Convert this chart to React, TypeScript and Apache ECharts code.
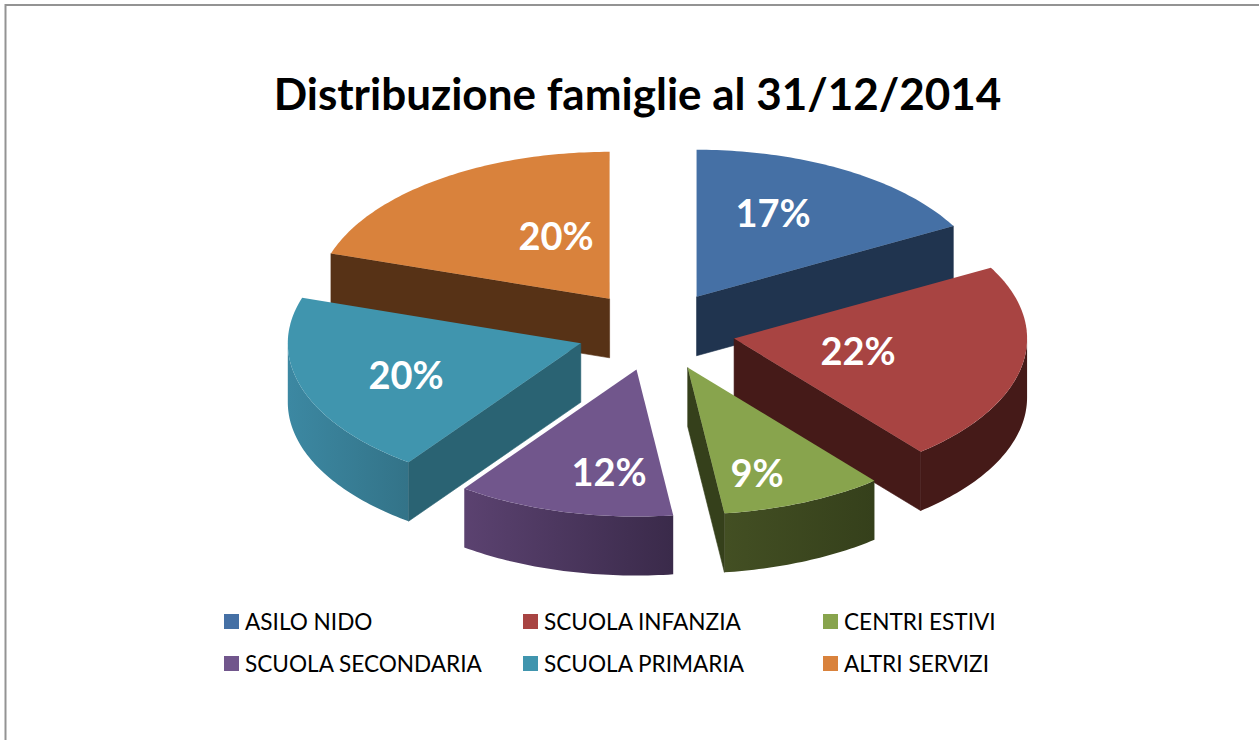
import React, { useEffect, useRef } from "react";
import * as echarts from "echarts";

const TITLE = "Distribuzione famiglie al 31/12/2014";
const categories = ["ASILO NIDO", "SCUOLA INFANZIA", "CENTRI ESTIVI", "SCUOLA SECONDARIA", "SCUOLA PRIMARIA", "ALTRI SERVIZI"];
const percentages = [17, 22, 9, 12, 20, 20];
const topColors = ["#4570A5", "#A84442", "#88A44D", "#71568C", "#4095AE", "#D9823C"];
const wallColors = ["#20344F", "#451A18", "#35401B", "#3A2A4A", "#2A6373", "#573216"];
const rimLeftColors = ["#20344F", "#451A18", "#434F23", "#5B4270", "#3C88A2", "#573216"];
const rimRightColors = ["#20344F", "#451A18", "#35401B", "#3A2A4A", "#337388", "#573216"];
const paintOrder = [5, 0, 4, 1, 3, 2];

const CX = 656.2;
const CY = 331;
const RX = 293;
const RY = 147;
const DEPTH = 59;
const EXPLODE = 0.2706;
const labelCenters = [
  [773, 212],
  [858, 350],
  [757, 472],
  [609, 471],
  [406, 374],
  [556, 235],
];

const rad = (d: number) => (d * Math.PI) / 180;

function sliceItem(index: number) {
  return (_params: any, api: any) => {
    const startPct = api.value(0);
    const pct = api.value(1);
    const a0 = startPct * 3.6;
    const a1 = (startPct + pct) * 3.6;
    const mid = rad((a0 + a1) / 2);
    const ax = CX + EXPLODE * RX * Math.sin(mid);
    const ay = CY - EXPLODE * RY * Math.cos(mid);
    const pt = (deg: number, dy = 0): number[] => [
      ax + RX * Math.sin(rad(deg)),
      ay - RY * Math.cos(rad(deg)) + dy,
    ];
    const arc = (from: number, to: number, dy = 0) => {
      const out: number[][] = [];
      const n = Math.max(2, Math.ceil(Math.abs(to - from)));
      for (let i = 0; i <= n; i++) out.push(pt(from + ((to - from) * i) / n, dy));
      return out;
    };
    const children: any[] = [];
    // Outer rim, front half only
    const r0 = Math.max(a0, 90);
    const r1 = Math.min(a1, 270);
    if (r1 > r0) {
      children.push({
        type: "polygon",
        shape: { points: [...arc(r0, r1), ...arc(r1, r0, DEPTH)] },
        style: {
          fill: new echarts.graphic.LinearGradient(0, 0, 1, 0, [
            { offset: 0, color: rimLeftColors[index] },
            { offset: 1, color: rimRightColors[index] },
          ]),
        },
      });
    }
    // Radial walls that face the viewer
    const m = pt((a0 + a1) / 2);
    [a0, a1].forEach((deg) => {
      const p = pt(deg);
      const ex = p[0] - ax;
      const ey = p[1] - ay;
      let nx = -ey;
      let ny = ex;
      if (nx * (m[0] - ax) + ny * (m[1] - ay) > 0) {
        nx = -nx;
        ny = -ny;
      }
      if (ny > 0) {
        children.push({
          type: "polygon",
          shape: { points: [[ax, ay], p, [p[0], p[1] + DEPTH], [ax, ay + DEPTH]] },
          style: { fill: wallColors[index], stroke: wallColors[index], lineWidth: 0.6 },
        });
      }
    });
    // Top face
    children.push({
      type: "polygon",
      shape: { points: [[ax, ay], ...arc(a0, a1)] },
      style: { fill: topColors[index] },
    });
    children.push({
      type: "text",
      style: {
        text: pct + "%",
        x: labelCenters[index][0],
        y: labelCenters[index][1],
        fill: "#FFFFFF",
        font: "bold 38px Lato",
        align: "center",
        verticalAlign: "middle",
      },
    });
    return { type: "group", children };
  };
}

const legendStyle = (left: number, data: string[]) => ({
  left,
  top: 610,
  orient: "vertical" as const,
  icon: "rect",
  itemWidth: 15,
  itemHeight: 15,
  itemGap: 19,
  padding: 0,
  selectedMode: false,
  data,
  textStyle: { color: "#000000", fontFamily: "Lato", fontSize: 22.6, padding: [0, 0, 0, 1] },
});

export default function App() {
  const ref = useRef<HTMLDivElement>(null);
  useEffect(() => {
    const chart = echarts.init(ref.current!, null, { renderer: "svg" });
    const starts = percentages.map((_, i) => percentages.slice(0, i).reduce((s, v) => s + v, 0));
    chart.setOption({
      animation: false,
      backgroundColor: "#FFFFFF",
      title: {
        text: TITLE,
        left: 637.5,
        top: 93,
        textAlign: "center",
        textVerticalAlign: "middle",
        padding: 0,
        textStyle: { fontFamily: "Lato", fontWeight: "bold", fontSize: 44, color: "#000000" },
      },
      legend: [
        legendStyle(224, [categories[0], categories[3]]),
        legendStyle(523, [categories[1], categories[4]]),
        legendStyle(823, [categories[2], categories[5]]),
      ],
      graphic: [
        {
          type: "polyline",
          silent: true,
          shape: { points: [[5.5, 740], [5.5, 5], [1259, 5]] },
          style: { stroke: "#939393", lineWidth: 2, fill: "none" },
        },
      ],
      series: paintOrder.map((i) => ({
        type: "custom",
        name: categories[i],
        coordinateSystem: "none",
        silent: true,
        clip: false,
        itemStyle: { color: topColors[i] },
        data: [[starts[i], percentages[i]]],
        renderItem: sliceItem(i),
      })),
    });
    return () => chart.dispose();
  }, []);
  return <div ref={ref} style={{ position: "absolute", left: 0, top: 0, width: 1259, height: 740 }} />;
}
